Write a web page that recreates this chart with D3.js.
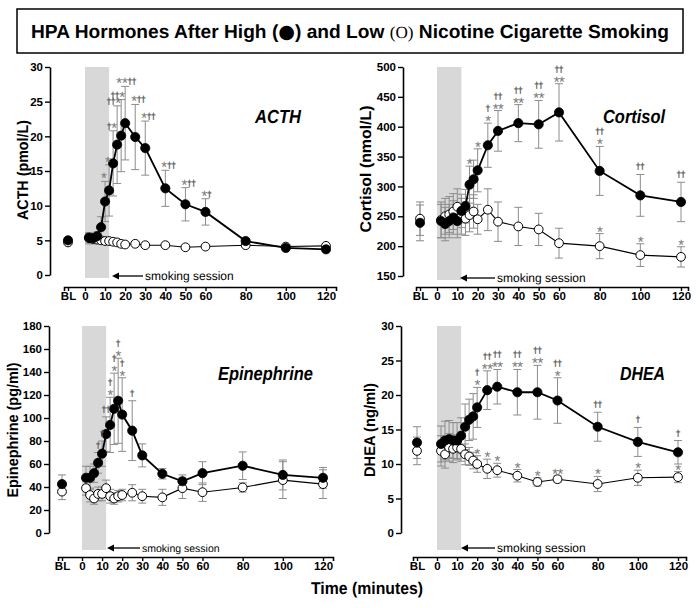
<!DOCTYPE html>
<html><head><meta charset="utf-8">
<script src="https://cdn.jsdelivr.net/npm/d3@7"></script>
<style>body{margin:0;background:#fff}svg{display:block}</style>
</head><body>
<svg id="c" width="696" height="608"></svg>
<script>
// ---------- DATA ----------
const times = [2,4,6,8,10,12,14,16,18,20,25,30,40,50,60,80,100,120];
const xTickValues = [0,10,20,30,40,50,60,80,100,120];

// ACTH (pmol/L)
const acthTicks = [0,5,10,15,20,25,30];
const acthBL = [5.0, 4.7];          // [high, low]
const acthBLErr = [0.3, 0.3];
const acthHigh = [5.4,5.3,5.6,6.9,10.6,12.2,16.1,18.8,20.1,21.9,19.9,18.3,12.5,10.2,9.1,4.9,3.9,3.7];
const acthHighErr = [0.6,0.6,0.6,1.5,2.9,3.7,4.7,5.6,5.2,5.3,4.7,3.9,2.6,2.4,1.9,0.3,0.2,0.2];
const acthLow = [5.3,5.2,5.1,5.0,4.9,4.9,4.8,4.7,4.5,4.4,4.5,4.3,4.3,4.0,4.1,4.3,4.1,4.2];
const acthLowErr = [0.8,0.7,0.5,0.4,0.3,0.3,0.3,0.3,0.2,0.2,0.2,0.2,0.2,0.2,0.2,0.2,0.2,0.2];
const acthHighAnno = ["","","","","*","*","†*","††*","††*","**††","*††","*††","*††","*††","*†","","",""];
const acthLowAnno = times.map(() => "");

// Cortisol (nmol/L)
const cortTicks = [150,200,250,300,350,400,450,500];
const cortBL = [239, 246];
const cortBLErr = [30, 28];
const cortHigh = [242,237,242,248,242,259,267,303,312,327,369,393,406,404,424,326,285,274];
const cortHighErr = [28,28,28,28,28,28,28,31,32,36,37,34,31,40,48,41,35,33];
const cortLow = [244,250,253,258,266,250,246,252,258,245,261,241,233,228,205,200,185,182];
const cortLowErr = [30,30,30,30,30,30,28,28,28,25,35,33,32,27,25,21,19,17];
const cortHighAnno = ["","","","","","","","|*","","|*","†|*","††|**","††|**","††|**","††|**","††|*","††|","††|"];
const cortLowAnno = ["","","","","","","","","","","","","","","","|*","|*","|*"];

// Epinephrine (pg/ml)
const epiTicks = [0,20,40,60,80,100,120,140,160,180];
const epiBL = [42.5, 36];
const epiBLErr = [8, 7];
const epiHigh = [48,48,52,61,69,86,94,108,115,103,89,67.5,51.5,45,52,58.5,50.5,48];
const epiHighErr = [10,10,8,9,11,15,24,31,37,32,26,10,4.5,5.5,10,12,13,9];
const epiLow = [39,33,30,34,34,39,32,30,32,33,35,32,31,39,35.5,39.6,46,42.5];
const epiLowErr = [6,6,5,6,6,7,6,5,5,5,7,6,7,9,8,4,16,12.5];
const epiHighAnno = ["","","","†|","†|","††|","†|*","†|*","†|*","†|*","†|","","","","","","",""];
const epiLowAnno = times.map(() => "");

// DHEA (ng/ml)
const dheaTicks = [0,5,10,15,20,25,30];
const dheaBL = [13.1, 11.9];
const dheaBLErr = [2.3, 2.0];
const dheaHigh = [12.9,13.4,13.6,13.4,13.4,14.1,15.4,16.4,16.9,18.2,20.7,21.2,20.4,20.4,19.2,15.4,13.2,11.7];
const dheaHighErr = [2.6,2.8,2.7,2.6,2.6,2.6,3.3,3.0,3.3,2.9,2.8,2.5,3.3,3.9,3.3,2.1,2.1,1.7];
const dheaLow = [11.9,11.4,12.4,12.2,12.4,12.2,11.4,11.1,10.5,10.0,9.3,9.1,8.3,7.4,7.8,7.1,8.0,8.1];
const dheaLowErr = [2.2,2.0,2.0,2.0,1.8,1.8,1.5,1.3,1.2,1.2,1.4,1.0,0.9,0.6,0.5,1.1,1.1,0.8];
const dheaHighAnno = ["","","","","","","","","","†|*","††|**","††|**","††|**","††|**","††|*","††|","†|","†|"];
const dheaLowAnno = ["","","","","","","","","","|*","|*","|*","|*","|*","|**","|*","|*","|*"];

// ---------- DRAW ----------
const FONT = "'Liberation Sans', Arial, Helvetica, sans-serif";
const DAGFONT = "'DejaVu Sans', sans-serif";
const DAGCOL = '#5a5a5a';
const svg = d3.select('#c').attr('font-family', FONT).attr('text-rendering', 'geometricPrecision');

// title box
svg.append('rect').attr('x',17).attr('y',9).attr('width',666).attr('height',44)
  .attr('fill','none').attr('stroke','#000').attr('stroke-width',1.5);
const tt = svg.append('text').attr('x',350).attr('y',38).attr('text-anchor','middle')
  .attr('font-size',19).attr('font-weight','bold')
  .attr('textLength',638).attr('lengthAdjust','spacingAndGlyphs');
tt.append('tspan').text('HPA Hormones After High (');
tt.append('tspan').text('●').attr('font-size',19).attr('font-family', DAGFONT);
tt.append('tspan').text(') and Low ');
tt.append('tspan').text('(O)').attr('font-weight','normal').attr('font-family',"'Liberation Serif', serif").attr('font-size',17);
tt.append('tspan').text(' Nicotine Cigarette Smoking');

svg.append('text').attr('x',367).attr('y',594).attr('text-anchor','middle')
  .attr('font-size',17).attr('font-weight','bold')
  .attr('textLength',112).attr('lengthAdjust','spacingAndGlyphs').text('Time (minutes)');

function drawAnno(g, cx, capY, str, mode) {
  if (!str) return;
  const STAR = 15, DAG = 8.5;
  const dagStyle = s => s.attr('font-size', DAG).attr('fill', DAGCOL).attr('font-family', DAGFONT)
    .attr('stroke', DAGCOL).attr('stroke-width', 0.25);
  if (mode === 'inline') {
    const dagFirst = str[0] === '†';
    const t = g.append('text').attr('y', capY + 2)
      .attr('x', dagFirst ? cx + 4 : cx - (str.startsWith('**') ? 9 : 4))
      .attr('text-anchor', dagFirst ? 'end' : 'start');
    let cur = 0;
    for (const ch of str) {
      const want = ch === '*' ? 0 : -4;
      const ts = t.append('tspan').text(ch).attr('dy', want - cur);
      cur = want;
      if (ch === '*') ts.attr('font-size', STAR).attr('fill', '#777');
      else dagStyle(ts);
    }
  } else {
    const [dag, stars] = str.split('|');
    if (stars) {
      g.append('text').attr('x', cx).attr('y', capY + 3).attr('text-anchor','middle')
        .attr('font-size', STAR).attr('fill', '#777').attr('letter-spacing', -0.5).text(stars);
    }
    if (dag) {
      dagStyle(g.append('text').attr('x', cx).attr('y', stars ? capY - 12 : capY - 5).attr('text-anchor','middle').text(dag));
    }
  }
}

function panel(c) {
  const g = svg.append('g');
  const y = d3.scaleLinear().domain([c.yTicks[0], c.yTicks[c.yTicks.length-1]]).range(c.yRange);
  const x = d3.scaleLinear().domain([0,120]).range(c.xRange);
  const blT = x.invert(c.blX);
  const px = t => t === 'BL' ? c.blX : x(t);

  // shading (smoking session 0-12 min)
  const yTop = y(c.yTicks[c.yTicks.length-1]);
  g.append('rect').attr('x', x(0)).attr('width', x(12)-x(0))
    .attr('y', yTop).attr('height', c.arrowY + 2 - yTop).attr('fill', '#d8d8d8');

  // y axis
  const ya = g.append('g').attr('transform', `translate(${c.yAxisX},0)`)
    .call(d3.axisLeft(y).tickValues(c.yTicks).tickSize(5).tickSizeOuter(0).tickPadding(2));
  ya.select('.domain').attr('stroke-width', 1.6);
  ya.selectAll('.tick line').attr('stroke-width', 1.4);
  ya.selectAll('text').attr('font-size', 11.5).attr('font-weight', 'bold').attr('font-family', FONT);

  // x axis
  const xa = x.copy().domain([x.invert(c.xLine[0]), x.invert(c.xLine[1])]).range(c.xLine);
  const xg = g.append('g').attr('transform', `translate(0,${c.xAxisY})`)
    .call(d3.axisBottom(xa).tickValues([blT].concat(xTickValues)).tickSize(4).tickSizeOuter(4).tickPadding(1)
      .tickFormat(d => d === blT ? 'BL' : d));
  xg.select('.domain').attr('stroke-width', 1.6);
  xg.selectAll('.tick line').attr('stroke-width', 1.4);
  xg.selectAll('text').attr('font-size', 11.5).attr('font-weight', 'bold').attr('font-family', FONT);

  // smoking session arrow
  g.append('line').attr('x1', c.arrowX[0] + 6).attr('x2', c.arrowX[1]).attr('y1', c.arrowY).attr('y2', c.arrowY)
    .attr('stroke', '#000').attr('stroke-width', 1.3);
  g.append('path').attr('d', `M${c.arrowX[0]},${c.arrowY} l7,-3.5 l0,7 z`).attr('fill', '#000');
  g.append('text').attr('x', c.arrowX[1] + 2).attr('y', c.arrowY + 4).attr('font-size', c.sessionFont)
    .text('smoking session');

  // panel name
  g.append('text').attr('x', c.namePos[0]).attr('y', c.namePos[1]).attr('font-size', 19)
    .attr('font-weight', 'bold').attr('font-style', 'italic')
    .attr('textLength', c.nameLen).attr('lengthAdjust', 'spacingAndGlyphs').text(c.name);

  // y label
  g.append('text').attr('transform', `translate(${c.yLabelPos[0]},${c.yLabelPos[1]}) rotate(-90)`)
    .attr('text-anchor', 'middle').attr('font-size', 15.5).attr('font-weight', 'bold')
    .attr('textLength', c.yLabelLen).attr('lengthAdjust', 'spacingAndGlyphs').text(c.yLabel);

  const mk = (bl, blErr, vals, errs, annos) =>
    [{t: 'BL', v: bl, e: blErr, a: ''}].concat(times.map((t, i) => ({t, v: vals[i], e: errs[i], a: annos[i]})));
  const high = mk(c.bl[0], c.blErr[0], c.high, c.highErr, c.highAnno);
  const low = mk(c.bl[1], c.blErr[1], c.low, c.lowErr, c.lowAnno);

  const errG = g.append('g').attr('stroke', '#8c8c8c').attr('stroke-width', 1);
  [low, high].forEach(s => s.forEach(d => {
    const xx = px(d.t);
    errG.append('line').attr('x1', xx).attr('x2', xx).attr('y1', y(d.v - d.e)).attr('y2', y(d.v + d.e));
    [d.v - d.e, d.v + d.e].forEach(v => errG.append('line').attr('x1', xx - 4).attr('x2', xx + 4)
      .attr('y1', y(v)).attr('y2', y(v)));
  }));

  const line = d3.line().x(d => px(d.t)).y(d => y(d.v));
  g.append('path').datum(low.slice(1)).attr('d', line).attr('fill', 'none').attr('stroke', '#000').attr('stroke-width', 1.1);
  g.append('path').datum(high.slice(1)).attr('d', line).attr('fill', 'none').attr('stroke', '#000').attr('stroke-width', 1.8);

  g.selectAll('circle.low').data(low).enter().append('circle')
    .attr('cx', d => px(d.t)).attr('cy', d => y(d.v)).attr('r', 4.4)
    .attr('fill', '#fff').attr('stroke', '#000').attr('stroke-width', 1);
  g.selectAll('circle.high').data(high).enter().append('circle')
    .attr('cx', d => px(d.t)).attr('cy', d => y(d.v)).attr('r', 4.6)
    .attr('fill', '#000').attr('stroke', '#000').attr('stroke-width', 0.8);

  const aG = g.append('g');
  high.forEach(d => drawAnno(aG, px(d.t), y(d.v + d.e), d.a, c.annoMode));
  low.forEach(d => drawAnno(aG, px(d.t), y(d.v + d.e), d.a, 'stack'));
}

panel({
  name: 'ACTH', namePos: [255, 123], nameLen: 46,
  yLabel: 'ACTH (pmol/L)', yLabelPos: [28, 170], yLabelLen: 100,
  yTicks: acthTicks, yRange: [275, 67], yAxisX: 50,
  xRange: [85, 326], blX: 68, xAxisY: 287, xLine: [64, 336],
  arrowX: [112, 143], arrowY: 276, sessionFont: 12,
  bl: acthBL, blErr: acthBLErr, high: acthHigh, highErr: acthHighErr, low: acthLow, lowErr: acthLowErr,
  highAnno: acthHighAnno, lowAnno: acthLowAnno, annoMode: 'inline'
});
panel({
  name: 'Cortisol', namePos: [603, 123], nameLen: 62,
  yLabel: 'Cortisol (nmol/L)', yLabelPos: [371, 169], yLabelLen: 127,
  yTicks: cortTicks, yRange: [276, 67], yAxisX: 403,
  xRange: [437, 681], blX: 420, xAxisY: 287, xLine: [416, 688],
  arrowX: [460, 495], arrowY: 278, sessionFont: 12,
  bl: cortBL, blErr: cortBLErr, high: cortHigh, highErr: cortHighErr, low: cortLow, lowErr: cortLowErr,
  highAnno: cortHighAnno, lowAnno: cortLowAnno, annoMode: 'stack'
});
panel({
  name: 'Epinephrine', namePos: [218, 380], nameLen: 95,
  yLabel: 'Epinephrine (pg/ml)', yLabelPos: [18, 430], yLabelLen: 135,
  yTicks: epiTicks, yRange: [533, 326], yAxisX: 49,
  xRange: [82, 323], blX: 62, xAxisY: 557, xLine: [58, 333],
  arrowX: [107, 140], arrowY: 548, sessionFont: 10.5,
  bl: epiBL, blErr: epiBLErr, high: epiHigh, highErr: epiHighErr, low: epiLow, lowErr: epiLowErr,
  highAnno: epiHighAnno, lowAnno: epiLowAnno, annoMode: 'stack'
});
panel({
  name: 'DHEA', namePos: [620, 380], nameLen: 45,
  yLabel: 'DHEA (ng/ml)', yLabelPos: [375, 430], yLabelLen: 94,
  yTicks: dheaTicks, yRange: [533, 326], yAxisX: 401,
  xRange: [437, 678], blX: 417, xAxisY: 557, xLine: [413, 686],
  arrowX: [461, 495], arrowY: 548, sessionFont: 12,
  bl: dheaBL, blErr: dheaBLErr, high: dheaHigh, highErr: dheaHighErr, low: dheaLow, lowErr: dheaLowErr,
  highAnno: dheaHighAnno, lowAnno: dheaLowAnno, annoMode: 'stack'
});
</script>
</body></html>
